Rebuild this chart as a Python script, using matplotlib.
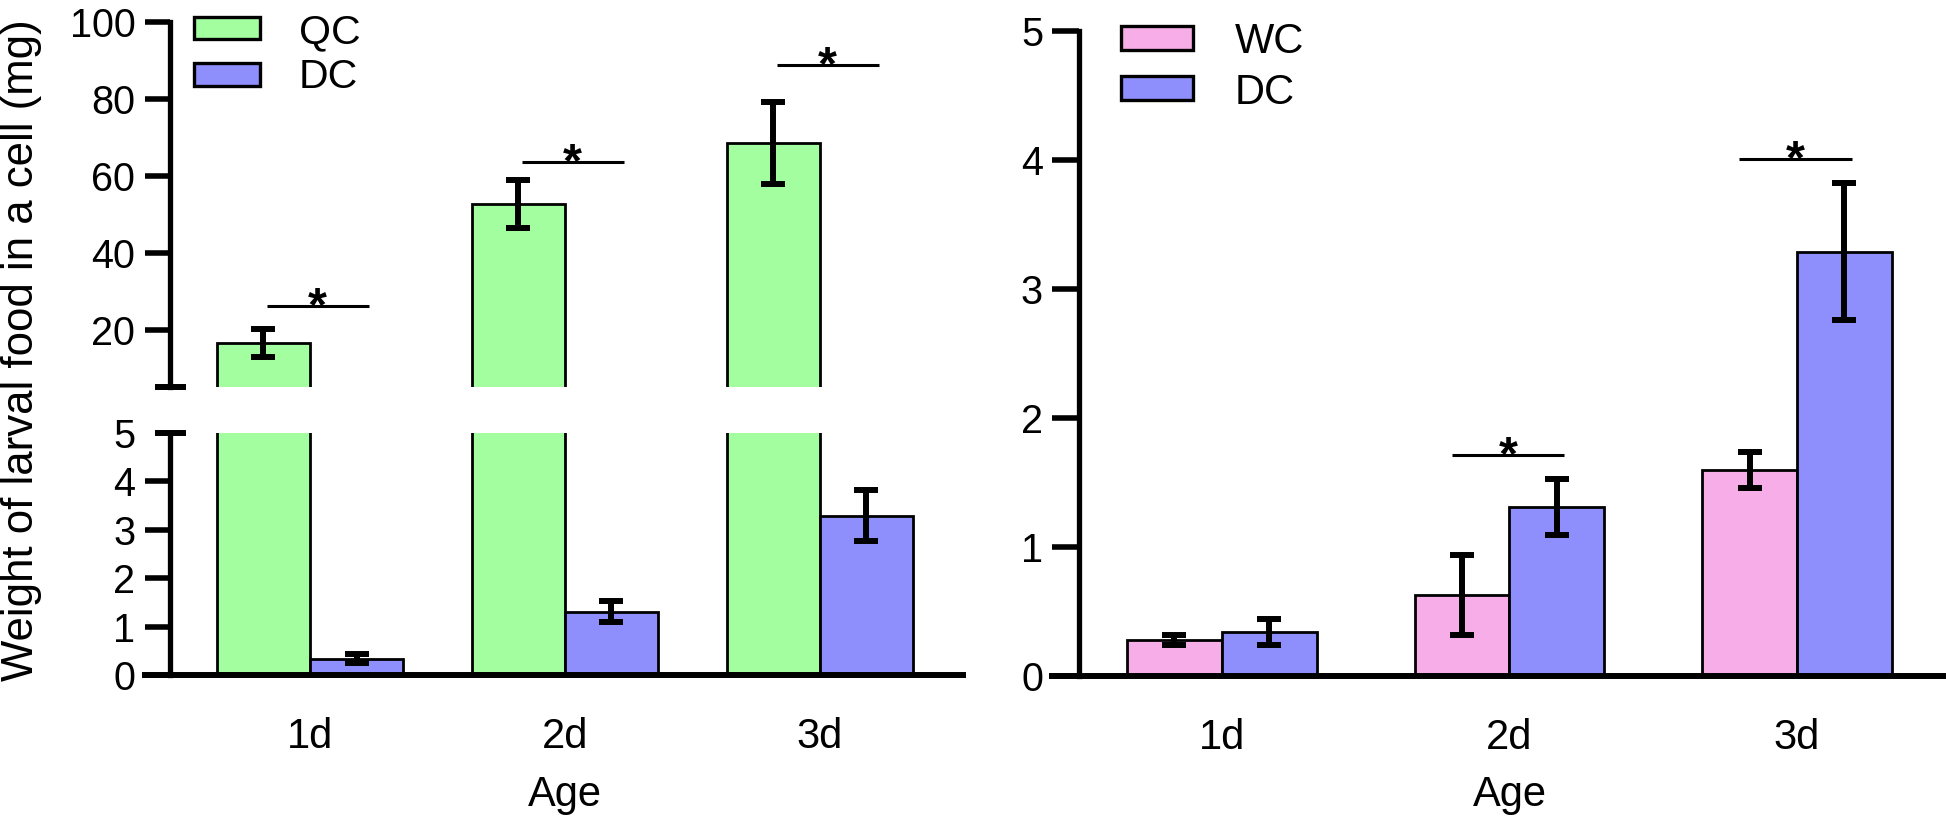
import matplotlib
matplotlib.use('Agg')
import matplotlib.pyplot as plt
from matplotlib.patches import Rectangle
from matplotlib.transforms import blended_transform_factory
import numpy as np

plt.rcParams['font.family'] = ['Liberation Sans', 'DejaVu Sans']

# ---------------- data ----------------
ages = ['1d', '2d', '3d']
qc_mean = [16.6, 52.7, 68.6]
qc_err = [3.7, 6.3, 10.6]
dc_mean = [0.34, 1.31, 3.29]
dc_err = [0.10, 0.22, 0.53]
wc_mean = [0.28, 0.63, 1.60]
wc_err = [0.04, 0.31, 0.14]

left_labels = ['QC', 'DC']
right_labels = ['WC', 'DC']

sig_left_idx = [0, 1, 2]
sig_left_y = [26.2, 63.6, 88.8]
sig_right_idx = [1, 2]
sig_right_y = [1.71, 4.01]

upper_ticks = [20, 40, 60, 80, 100]
lower_ticks = [0, 1, 2, 3, 4]
right_ticks = [0, 1, 2, 3, 4, 5]

# ---------------- style ----------------
GREEN = '#A2FE9E'
BLUE = '#8F8EFD'
PINK = '#F6ADE8'

W, H = 1946, 830
fig = plt.figure(figsize=(W / 100, H / 100), dpi=100)


def rect(x0, y0, x1, y1):
    return [x0 / W, 1 - y1 / H, (x1 - x0) / W, (y1 - y0) / H]


ax_up = fig.add_axes(rect(145, 22, 963, 387))
ax_lo = fig.add_axes(rect(145, 433, 963, 675))
ax_r = fig.add_axes(rect(1052, 31, 1943, 676))

x = np.arange(len(ages))
wl = 0.365
wr = 0.33
bar_lw = 2.0
err_kw = dict(fmt='none', ecolor='black', elinewidth=4.3, capsize=8.3, capthick=4.3, zorder=4)
YT = 28.5   # y tick label size
XT = 30     # x tick label / x label size

# left panel (broken axis): draw into both segments
for ax in (ax_up, ax_lo):
    ax.bar(x - wl / 2, qc_mean, width=wl, color=GREEN, edgecolor='black', linewidth=bar_lw, zorder=2)
    ax.bar(x + wl / 2, dc_mean, width=wl, color=BLUE, edgecolor='black', linewidth=bar_lw, zorder=2)
    ax.errorbar(x - wl / 2, qc_mean, yerr=qc_err, **err_kw)
    ax.errorbar(x + wl / 2, dc_mean, yerr=dc_err, **err_kw)
    ax.set_xlim(-0.647, 2.561)
    ax.spines['left'].set_position(('data', -0.549))
    ax.spines['left'].set_linewidth(3.8)
    ax.spines['right'].set_visible(False)
    ax.spines['top'].set_visible(False)
    ax.tick_params(axis='y', which='major', direction='out', length=18, width=4.0,
                   labelsize=YT, pad=7)

ax_up.set_ylim(5.2, 100)
ax_up.spines['bottom'].set_visible(False)
ax_up.set_yticks(upper_ticks)
ax_up.set_xticks([])

ax_lo.set_ylim(0, 5)
ax_lo.set_yticks(lower_ticks)
ax_lo.set_yticks([5], minor=True)
ax_lo.set_yticklabels(['5'], minor=True)
ax_lo.tick_params(axis='y', which='minor', length=0, labelsize=YT, pad=25)
ax_lo.spines['bottom'].set_linewidth(4.3)

# break marks
ax_up.plot([-0.608, -0.486], [5.2, 5.2], color='black', lw=4.3, clip_on=False,
           solid_capstyle='butt', zorder=5)
ax_lo.plot([-0.608, -0.486], [5, 5], color='black', lw=4.3, clip_on=False,
           solid_capstyle='butt', zorder=5)

# right panel
ax_r.bar(x - wr / 2, wc_mean, width=wr, color=PINK, edgecolor='black', linewidth=bar_lw, zorder=2)
ax_r.bar(x + wr / 2, dc_mean, width=wr, color=BLUE, edgecolor='black', linewidth=bar_lw, zorder=2)
ax_r.errorbar(x - wr / 2, wc_mean, yerr=wc_err, **err_kw)
ax_r.errorbar(x + wr / 2, dc_mean, yerr=dc_err, **err_kw)
ax_r.set_xlim(-0.591, 2.508)
ax_r.set_ylim(0, 5)
ax_r.set_yticks(right_ticks)
ax_r.spines['left'].set_position(('data', -0.497))
ax_r.spines['left'].set_linewidth(3.8)
ax_r.spines['bottom'].set_linewidth(4.3)
ax_r.spines['right'].set_visible(False)
ax_r.spines['top'].set_visible(False)
ax_r.tick_params(axis='y', direction='out', length=19.4, width=4.0, labelsize=YT, pad=6.5)

# x axes
for ax in (ax_lo, ax_r):
    ax.set_xticks(x)
    ax.set_xticklabels(ages)
    ax.tick_params(axis='x', length=0, labelsize=XT, pad=30)
    ax.set_xlabel('Age', fontsize=XT)
    ax.xaxis.set_label_coords(1.0, 1 - 775 / H,
                              transform=blended_transform_factory(ax.transData, fig.transFigure))

# significance lines and stars
def sig(ax, xc, y, lo, hi):
    ax.plot([xc + lo, xc + hi], [y, y], color='black', lw=2.2, solid_capstyle='butt', zorder=4)
    ax.annotate('*', xy=(xc + (lo + hi) / 2, y), xytext=(0, -10), textcoords='offset points',
                ha='center', va='baseline', fontsize=35, fontweight='bold')

for i, y in zip(sig_left_idx, sig_left_y):
    sig(ax_up, x[i], y, -0.17, 0.23)
for i, y in zip(sig_right_idx, sig_right_y):
    sig(ax_r, x[i], y, -0.20, 0.19)

# y label
fig.text(33 / W, 1 - 350 / H, 'Weight of larval food in a cell (mg)', rotation=90,
         rotation_mode='anchor', ha='center', va='baseline', fontsize=31.5)

# legends (manual)
def legend_entry(x0, y0, x1, y1, color, label, tx, tb, fs):
    fig.add_artist(Rectangle((x0 / W, 1 - y1 / H), (x1 - x0) / W, (y1 - y0) / H,
                             transform=fig.transFigure, facecolor=color, edgecolor='black',
                             linewidth=2.4))
    fig.text(tx / W, 1 - tb / H, label, fontsize=fs, ha='left', va='baseline')

legend_entry(194, 17, 260, 39, GREEN, left_labels[0], 299, 43, 29.5)
legend_entry(194, 63, 260, 86, BLUE, left_labels[1], 299, 88, 29.5)
legend_entry(1121, 26, 1193, 50, PINK, right_labels[0], 1235, 53, 30)
legend_entry(1121, 76, 1193, 100, BLUE, right_labels[1], 1235, 104, 30)

fig.savefig('out.png', dpi=100)
